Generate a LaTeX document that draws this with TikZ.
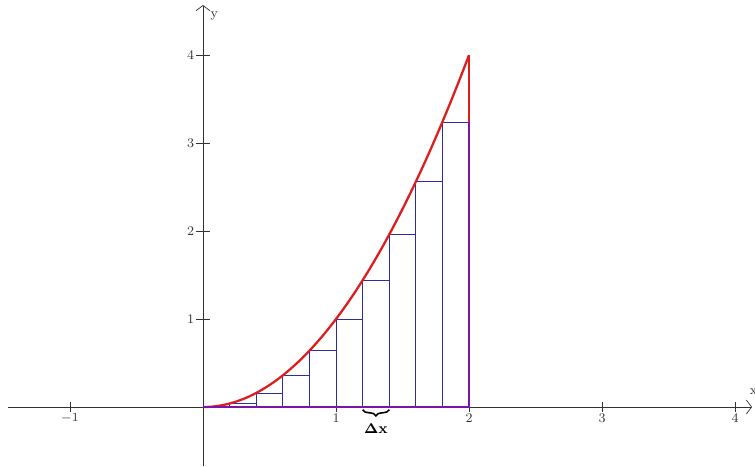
\documentclass[tikz,border=0pt]{standalone}
\usepackage{tikz}
\usetikzlibrary{arrows.meta,decorations.pathreplacing}
\definecolor{curvered}{RGB}{222,30,30}
\definecolor{barblue}{RGB}{45,45,160}
\definecolor{edgepurple}{RGB}{125,20,165}
\definecolor{axisgray}{RGB}{50,50,50}

\begin{document}
\begin{tikzpicture}[x=2.66cm,y=1.76cm,>={Straight Barb[length=3pt,width=8pt]},
  every node/.style={font=\fontsize{7.5}{9}\selectfont,inner sep=1pt}]
  \useasboundingbox (-1.526,-0.670) rectangle (4.150,4.625);
  % axes
  \coordinate (xs) at (-1.466,0);
  \coordinate (xe) at (4.128,0);
  \coordinate (ys) at (0,-0.670);
  \coordinate (ye) at (0,4.568);
  \draw[axisgray,->](xs)--(xe);
  \draw[axisgray,->](ys)--(ye);
  \node[axisgray] (xlab) at (4.14,0.17){x};
  \node[axisgray] (ylab) at (0.085,4.44){y};
  \foreach \t/\lab in {-1/$-1$,1/1,2/2,3/3,4/4}{
    \draw[axisgray](\t,-0.057)--(\t,0.057);
    \node[axisgray] (xt\t) at (\t,-0.13){\lab};
  }
  \foreach \t in {1,2,3,4}{
    \draw[axisgray](-0.05,\t)--(0.05,\t);
    \node[axisgray,anchor=east] (yt\t) at (-0.05,\t){\t};
  }
  % left sums, dx = 0.2
  \foreach \i in {0,...,9}{
    \pgfmathsetmacro\xl{0.2*\i}
    \pgfmathsetmacro\h{\xl*\xl}
    \draw[barblue,thin](\xl,0) rectangle ({\xl+0.2},\h);
  }
  % y = x^2
  \draw[curvered,line width=1.3pt,smooth]
    plot[domain=0:2,samples=60](\x,{\x*\x});
  \draw[curvered,line width=1.1pt](2,3.24)--(2,4);
  \draw[edgepurple,line width=1.1pt](2,0)--(2,3.24);
  \draw[edgepurple,line width=0.9pt](0,0)--(2,0);
  % delta x
  \draw[black,line width=0.9pt,decorate,decoration={brace,mirror,amplitude=3.5pt}]
    (1.2,-0.03)--(1.4,-0.03);
  \node[font=\fontsize{8.5}{10}\selectfont\bfseries] (dx) at (1.3,-0.25){$\mathbf{\Delta}$x};
\end{tikzpicture}
\end{document}
